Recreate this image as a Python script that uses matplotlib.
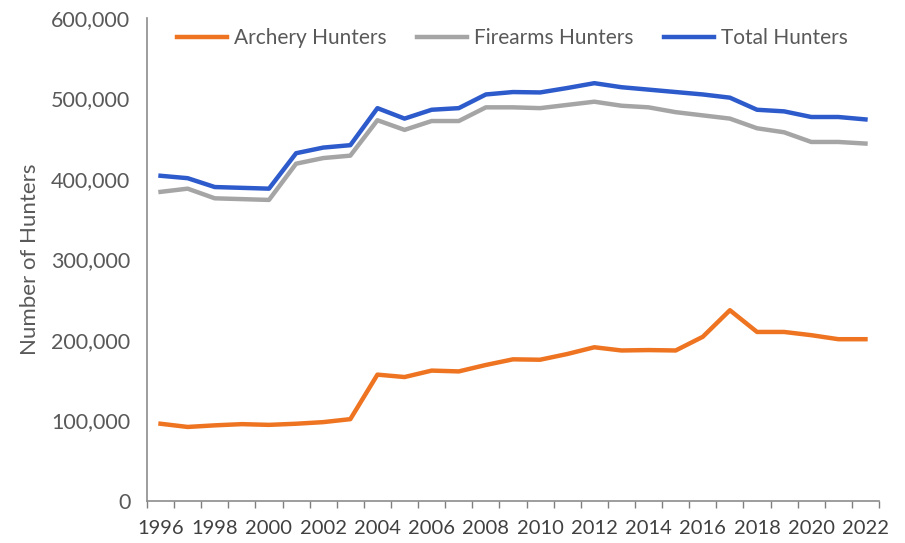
import matplotlib
matplotlib.use("Agg")
import matplotlib.pyplot as plt
from matplotlib.ticker import FuncFormatter, FixedLocator

plt.rcParams['font.family'] = ['Lato', 'DejaVu Sans']

years = list(range(1996, 2023))
archery = [96000, 92000, 94000, 95500, 94600, 96000, 98000, 101700, 157000, 154000,
           162000, 161000, 169000, 176000, 175500, 182600, 191000, 187000, 187500, 187000,
           204000, 237000, 210000, 210000, 206000, 201000, 201000]
firearms = [384000, 388000, 376000, 375000, 374000, 419000, 426000, 429000, 473000, 461000,
            472000, 472000, 489000, 489000, 488000, 492000, 496000, 491000, 489000, 483000,
            479000, 475000, 463000, 458000, 446000, 446000, 444000]
total = [404000, 401000, 390000, 389000, 388000, 432000, 439000, 442000, 488000, 475000,
         486000, 488000, 505000, 508000, 507500, 513000, 519000, 514000, 511000, 508000,
         505000, 501000, 486000, 484000, 477000, 477000, 474000]
series_names = ["Archery Hunters", "Firearms Hunters", "Total Hunters"]
colors = ["#EE7422", "#A5A5A5", "#2E5BCC"]

fig = plt.figure(figsize=(9.05, 5.43), dpi=100)
ax = fig.add_axes([0.1624, 0.0773, 0.8089, 0.8896])

x = list(range(len(years)))
for vals, name, c in zip([archery, firearms, total], series_names, colors):
    ax.plot(x, vals, color=c, lw=3.2, label=name, solid_joinstyle='round')

ax.set_xlim(-0.5, len(years) - 0.5)
ax.set_ylim(0, 600000)
ax.yaxis.set_major_locator(FixedLocator([0, 100000, 200000, 300000, 400000, 500000, 600000]))
ax.yaxis.set_major_formatter(FuncFormatter(lambda v, p: f"{int(v):,}"))
ax.tick_params(axis='y', length=0, pad=12, labelsize=15.5, labelcolor='#595959')

ax.set_xticks([i for i in x if years[i] % 2 == 0])
ax.set_xticklabels([str(years[i]) for i in x if years[i] % 2 == 0])
ax.set_xticks([i - 0.5 for i in range(len(years) + 1)], minor=True)
ax.tick_params(axis='x', which='major', length=0, pad=14, labelsize=14.5, labelcolor='#404040')
ax.tick_params(axis='x', which='minor', length=5, color='#7f7f7f', width=1, direction='out')

for s in ['top', 'right']:
    ax.spines[s].set_visible(False)
ax.spines['left'].set_color('#8c8c8c')
ax.spines['bottom'].set_color('#8c8c8c')
ax.spines['left'].set_linewidth(1.2)
ax.spines['bottom'].set_linewidth(1.2)

ax.set_ylabel("Number of Hunters", fontsize=16, color='#595959', labelpad=8)

ax.legend(loc='upper center', bbox_to_anchor=(0.499, 1.018), ncol=3, frameon=False,
          fontsize=15, handlelength=2.4, handletextpad=0.35, columnspacing=1.45,
          labelcolor='#595959')

fig.savefig("out.png", dpi=100)
